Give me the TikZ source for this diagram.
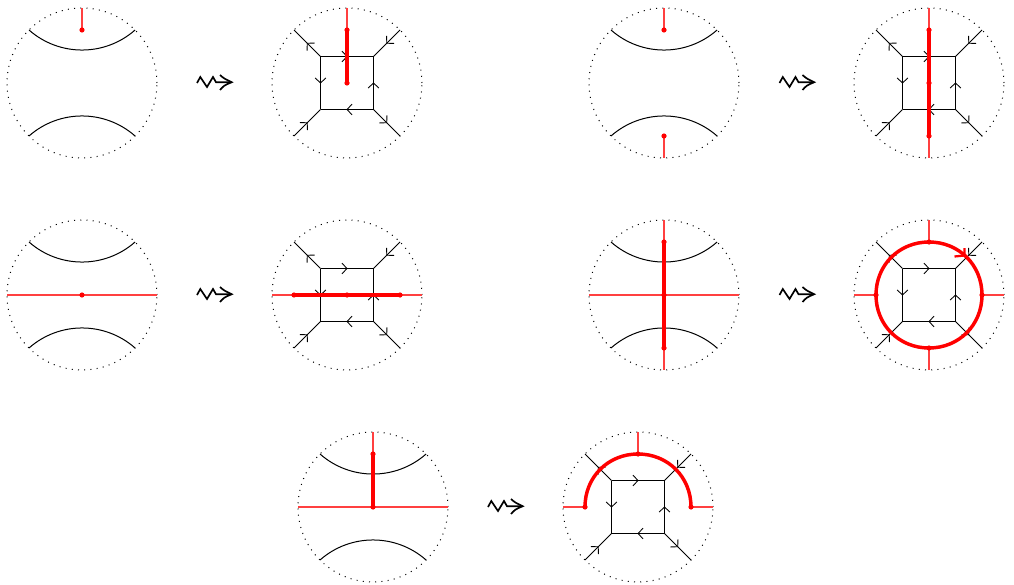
\documentclass[tikz,border=0pt]{standalone}
\usetikzlibrary{decorations.markings}
\tikzset{
  ballrim/.style={line width=.75pt,dash pattern=on .75pt off 3.93pt},
  edge/.style={line width=.75pt,black},
  flow/.style={edge,postaction={decorate},decoration={markings,mark=at position .5 with {\draw[line width=.65pt,solid] (-3.8pt,4pt) .. controls (-2pt,1.8pt) .. (0,0) .. controls (-2pt,-1.8pt) .. (-3.8pt,-4pt);}}},
  thinred/.style={line width=.8pt,red!75},
  thickred/.style={line width=2.5pt,red},
  bigred/.style={line width=2.6pt,red},
  squigline/.style={line width=1.25pt,black,line join=miter},
  rim/.pic={\draw[ballrim] (0,0) circle[radius=75];},
  slice/.pic={
    \draw[edge] (-53,53) arc[start angle=228.6,end angle=311.4,radius=80.2];
    \draw[edge] (-53,-53) arc[start angle=131.4,end angle=48.6,radius=80.2];},
  box/.pic={
    \coordinate (a) at (-26.5,26.5); \coordinate (b) at (26.5,26.5);
    \coordinate (c) at (26.5,-26.5); \coordinate (d) at (-26.5,-26.5);
    \coordinate (ao) at (-53,53); \coordinate (bo) at (53,53);
    \coordinate (co) at (53,-53); \coordinate (do) at (-53,-53);
    \draw[flow] (a) -- (b);
    \draw[flow] (c) -- (b);
    \draw[flow] (c) -- (d);
    \draw[flow] (a) -- (d);
    \draw[flow] (a) -- (ao);
    \draw[flow] (bo) -- (b);
    \draw[flow] (c) -- (co);
    \draw[flow] (do) -- (d);},
  squig/.pic={
    \draw[squigline] (0,0) -- (3.3,6) -- (10,-4) -- (16,6) -- (19,.8) -- (34.7,.8);
    \draw[squigline] (23,8) .. controls (27,4.5) .. (34.7,.8) .. controls (27,-2.5) .. (23,-7);}
}
\newcommand{\dotat}[1]{\fill[red] (#1) circle[radius=2.6];}
\begin{document}
\begin{tikzpicture}[x=.75pt,y=.75pt]
\useasboundingbox (0,0) rectangle (1014,-585);
% row 1
\begin{scope}[shift={(82,-83)}]
  \pic {rim}; \pic {slice};
  \draw[thinred] (0,75) -- (0,53); \dotat{0,53}
\end{scope}
\pic at (197,-83) {squig};
\begin{scope}[shift={(347,-83)}]
  \pic {rim}; \pic {box};
  \draw[thinred] (0,75) -- (0,53);
  \draw[thickred] (0,53) -- (0,0); \dotat{0,53} \dotat{0,0}
\end{scope}
\begin{scope}[shift={(664,-83)}]
  \pic {rim}; \pic {slice};
  \draw[thinred] (0,75) -- (0,53); \draw[thinred] (0,-75) -- (0,-53);
  \dotat{0,53} \dotat{0,-53}
\end{scope}
\pic at (779.5,-83) {squig};
\begin{scope}[shift={(929,-83)}]
  \pic {rim}; \pic {box};
  \draw[thinred] (0,75) -- (0,-75);
  \draw[thickred] (0,53) -- (0,-53); \dotat{0,53} \dotat{0,0} \dotat{0,-53}
\end{scope}
% row 2
\begin{scope}[shift={(82,-295)}]
  \pic {rim}; \pic {slice};
  \draw[thinred] (-75,0) -- (75,0); \dotat{0,0}
\end{scope}
\pic at (197,-295) {squig};
\begin{scope}[shift={(347,-295)}]
  \pic {rim}; \pic {box};
  \draw[thinred] (-75,0) -- (75,0);
  \draw[thickred] (-53,0) -- (53,0); \dotat{-53,0} \dotat{0,0} \dotat{53,0}
\end{scope}
\begin{scope}[shift={(664,-295)}]
  \pic {rim}; \pic {slice};
  \draw[thinred] (-75,0) -- (75,0); \draw[thinred] (0,75) -- (0,-75);
  \draw[thickred] (0,53) -- (0,-53); \dotat{0,53} \dotat{0,0} \dotat{0,-53}
\end{scope}
\pic at (779.5,-295) {squig};
\begin{scope}[shift={(929,-295)}]
  \pic {rim}; \pic {box};
  \draw[thinred] (0,75) -- (0,53); \draw[thinred] (0,-75) -- (0,-53);
  \draw[thinred] (-75,0) -- (-53,0); \draw[thinred] (75,0) -- (53,0);
  \draw[bigred] (53,0) .. controls (53,30) and (30,53) .. (0,53)
     .. controls (-30,53) and (-53,30) .. (-53,0)
     .. controls (-53,-30) and (-30,-53) .. (0,-53)
     .. controls (30,-53) and (53,-30) .. (53,0) -- cycle;
  \draw[red,line width=1.7pt] (25.5,38.5) -- (35.5,39.5) -- (35.5,47);
  \dotat{0,53} \dotat{0,-53} \dotat{-53,0} \dotat{53,0}
\end{scope}
% row 3
\begin{scope}[shift={(373,-507)}]
  \pic {rim}; \pic {slice};
  \draw[thinred] (-75,0) -- (75,0); \draw[thinred] (0,75) -- (0,53);
  \draw[thickred] (0,53) -- (0,0); \dotat{0,53} \dotat{0,0}
\end{scope}
\pic at (488,-507) {squig};
\begin{scope}[shift={(638,-507)}]
  \pic {rim}; \pic {box};
  \draw[thinred] (0,75) -- (0,53);
  \draw[thinred] (-75,0) -- (-53,0); \draw[thinred] (75,0) -- (53,0);
  \draw[bigred] (-53,0) .. controls (-53,30) and (-30,53) .. (0,53)
     .. controls (30,53) and (53,30) .. (53,0);
  \dotat{0,53} \dotat{-53,0} \dotat{53,0}
\end{scope}
\end{tikzpicture}
\end{document}
